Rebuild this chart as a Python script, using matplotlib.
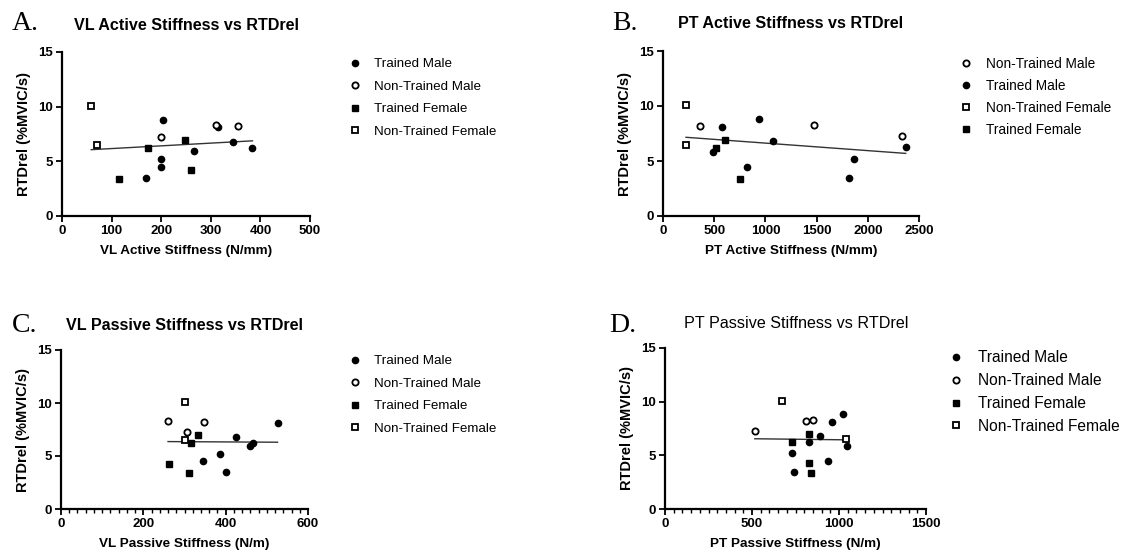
import numpy as np
import matplotlib.pyplot as plt
from matplotlib.lines import Line2D
from matplotlib.ticker import MultipleLocator, AutoMinorLocator

plt.rcParams['font.family'] = ['Liberation Sans', 'DejaVu Sans']

# Panel A - VL active stiffness (N/mm) vs RTDrel
a_tm_x = [203, 199, 200, 170, 266, 315, 344, 384]
a_tm_y = [8.8, 5.2, 4.5, 3.45, 5.9, 8.1, 6.8, 6.25]
a_ntm_x = [200, 310, 355]
a_ntm_y = [7.25, 8.35, 8.2]
a_tf_x = [247, 173, 115, 260]
a_tf_y = [6.95, 6.25, 3.4, 4.25]
a_ntf_x = [59, 71]
a_ntf_y = [10.1, 6.5]

# Panel B - PT active stiffness (N/mm)
b_tm_x = [580, 486, 822, 939, 1073, 1819, 1868, 2370]
b_tm_y = [8.05, 5.85, 4.45, 8.8, 6.8, 3.45, 5.2, 6.25]
b_ntm_x = [365, 1474, 2334]
b_ntm_y = [8.2, 8.3, 7.25]
b_tf_x = [603, 522, 753]
b_tf_y = [6.95, 6.2, 3.4]
b_ntf_x = [225, 228]
b_ntf_y = [10.1, 6.45]

# Panel C - VL passive stiffness (N/m)
c_tm_x = [425, 526, 458, 466, 386, 346, 402]
c_tm_y = [6.8, 8.1, 5.9, 6.25, 5.2, 4.5, 3.45]
c_ntm_x = [260, 347, 307]
c_ntm_y = [8.3, 8.2, 7.25]
c_tf_x = [317, 332, 262, 310]
c_tf_y = [6.25, 6.95, 4.25, 3.4]
c_ntf_x = [300, 302]
c_ntf_y = [10.1, 6.5]

# Panel D - PT passive stiffness (N/m)
d_tm_x = [1025, 960, 890, 825, 1048, 730, 939, 743]
d_tm_y = [8.85, 8.1, 6.8, 6.25, 5.9, 5.2, 4.45, 3.45]
d_ntm_x = [516, 810, 853]
d_ntm_y = [7.25, 8.2, 8.3]
d_tf_x = [728, 829, 827, 840]
d_tf_y = [6.25, 6.95, 4.25, 3.4]
d_ntf_x = [674, 1042]
d_ntf_y = [10.1, 6.5]

W, H = 1129, 552
fig = plt.figure(figsize=(W / 100, H / 100), dpi=100)

styles = {
    "Trained Male": dict(marker="o", mfc="black", mec="black", ms=4.5, mew=1.0),
    "Non-Trained Male": dict(marker="o", mfc="white", mec="black", ms=4.5, mew=1.3),
    "Trained Female": dict(marker="s", mfc="black", mec="black", ms=4.3, mew=1.0),
    "Non-Trained Female": dict(marker="s", mfc="white", mec="black", ms=4.3, mew=1.3),
}


def rect(l, r, b, t):
    return [l / W, 1 - b / H, (r - l) / W, (b - t) / H]


panels = [
    dict(rect=rect(62, 310, 216, 52), xmax=500, xstep=100, minor=False,
         groups={"Trained Male": (a_tm_x, a_tm_y), "Non-Trained Male": (a_ntm_x, a_ntm_y),
                 "Trained Female": (a_tf_x, a_tf_y), "Non-Trained Female": (a_ntf_x, a_ntf_y)},
         order=["Trained Male", "Non-Trained Male", "Trained Female", "Non-Trained Female"],
         xlabel="VL Active Stiffness (N/mm)", title="VL Active Stiffness vs RTDrel", bold=True,
         letter="A.", letter_xy=(12, 30), title_xy=(186, 25), leg_xy=(350, 58), leg_fs=9.6,
         leg_sp=0.76),
    dict(rect=rect(663, 919, 216, 51), xmax=2500, xstep=500, minor=False,
         groups={"Trained Male": (b_tm_x, b_tm_y), "Non-Trained Male": (b_ntm_x, b_ntm_y),
                 "Trained Female": (b_tf_x, b_tf_y), "Non-Trained Female": (b_ntf_x, b_ntf_y)},
         order=["Non-Trained Male", "Trained Male", "Non-Trained Female", "Trained Female"],
         xlabel="PT Active Stiffness (N/mm)", title="PT Active Stiffness vs RTDrel", bold=True,
         letter="B.", letter_xy=(612, 30), title_xy=(791, 23), leg_xy=(961, 56.5), leg_fs=9.8,
         leg_sp=0.6),
    dict(rect=rect(61, 308, 509, 350), xmax=600, xstep=200, minor=True,
         groups={"Trained Male": (c_tm_x, c_tm_y), "Non-Trained Male": (c_ntm_x, c_ntm_y),
                 "Trained Female": (c_tf_x, c_tf_y), "Non-Trained Female": (c_ntf_x, c_ntf_y)},
         order=["Trained Male", "Non-Trained Male", "Trained Female", "Non-Trained Female"],
         xlabel="VL Passive Stiffness (N/m)", title="VL Passive Stiffness vs RTDrel", bold=True,
         letter="C.", letter_xy=(12, 332), title_xy=(184, 325), leg_xy=(350, 355), leg_fs=9.6,
         leg_sp=0.76),
    dict(rect=rect(665, 926, 509, 348), xmax=1500, xstep=500, minor=True,
         groups={"Trained Male": (d_tm_x, d_tm_y), "Non-Trained Male": (d_ntm_x, d_ntm_y),
                 "Trained Female": (d_tf_x, d_tf_y), "Non-Trained Female": (d_ntf_x, d_ntf_y)},
         order=["Trained Male", "Non-Trained Male", "Trained Female", "Non-Trained Female"],
         xlabel="PT Passive Stiffness (N/m)", title="PT Passive Stiffness vs RTDrel", bold=False,
         letter="D.", letter_xy=(609, 332), title_xy=(796, 323), leg_xy=(950, 350.5), leg_fs=11.2,
         leg_sp=0.5),
]

for p in panels:
    ax = fig.add_axes(p["rect"])
    allx, ally = [], []
    for name, (xs, ys) in p["groups"].items():
        ax.plot(xs, ys, ls="none", zorder=3, **styles[name])
        allx += xs
        ally += ys
    # linear fit through all subjects
    k, c = np.polyfit(allx, ally, 1)
    xf = np.array([min(allx), max(allx)])
    ax.plot(xf, k * xf + c, color="#333333", lw=1, zorder=2)

    ax.set_xlim(0, p["xmax"])
    ax.set_ylim(0, 15)
    ax.xaxis.set_major_locator(MultipleLocator(p["xstep"]))
    ax.yaxis.set_major_locator(MultipleLocator(5))
    if p["minor"]:
        ax.xaxis.set_minor_locator(AutoMinorLocator(10))
    for s in ["top", "right"]:
        ax.spines[s].set_visible(False)
    for s in ["left", "bottom"]:
        ax.spines[s].set_linewidth(1.6)
    ax.tick_params(which="major", length=4, width=1.3, labelsize=9.5, pad=2.5)
    ax.tick_params(which="minor", length=3, width=1.0)
    for lab in ax.get_xticklabels() + ax.get_yticklabels():
        lab.set_fontweight("bold")
    ax.set_xlabel(p["xlabel"], fontsize=9.7, fontweight="bold", labelpad=6)
    ax.set_ylabel("RTDrel (%MVIC/s)", fontsize=10.5, fontweight="bold", labelpad=5)

    handles = [Line2D([], [], ls="none", **styles[n]) for n in p["order"]]
    ax.legend(handles, p["order"], loc="upper left",
              bbox_to_anchor=(p["leg_xy"][0] / W, 1 - p["leg_xy"][1] / H),
              bbox_transform=fig.transFigure, frameon=False, fontsize=p["leg_fs"],
              handlelength=0.8, handletextpad=1.0, labelspacing=p["leg_sp"],
              borderpad=0, borderaxespad=0)

    fig.text(p["letter_xy"][0] / W, 1 - p["letter_xy"][1] / H, p["letter"],
             family="Liberation Serif", fontsize=20, va="baseline", ha="left")
    fig.text(p["title_xy"][0] / W, 1 - p["title_xy"][1] / H, p["title"],
             fontsize=11.6, fontweight="bold" if p["bold"] else "normal",
             ha="center", va="center")

fig.savefig("out.png", dpi=100, facecolor="white")
